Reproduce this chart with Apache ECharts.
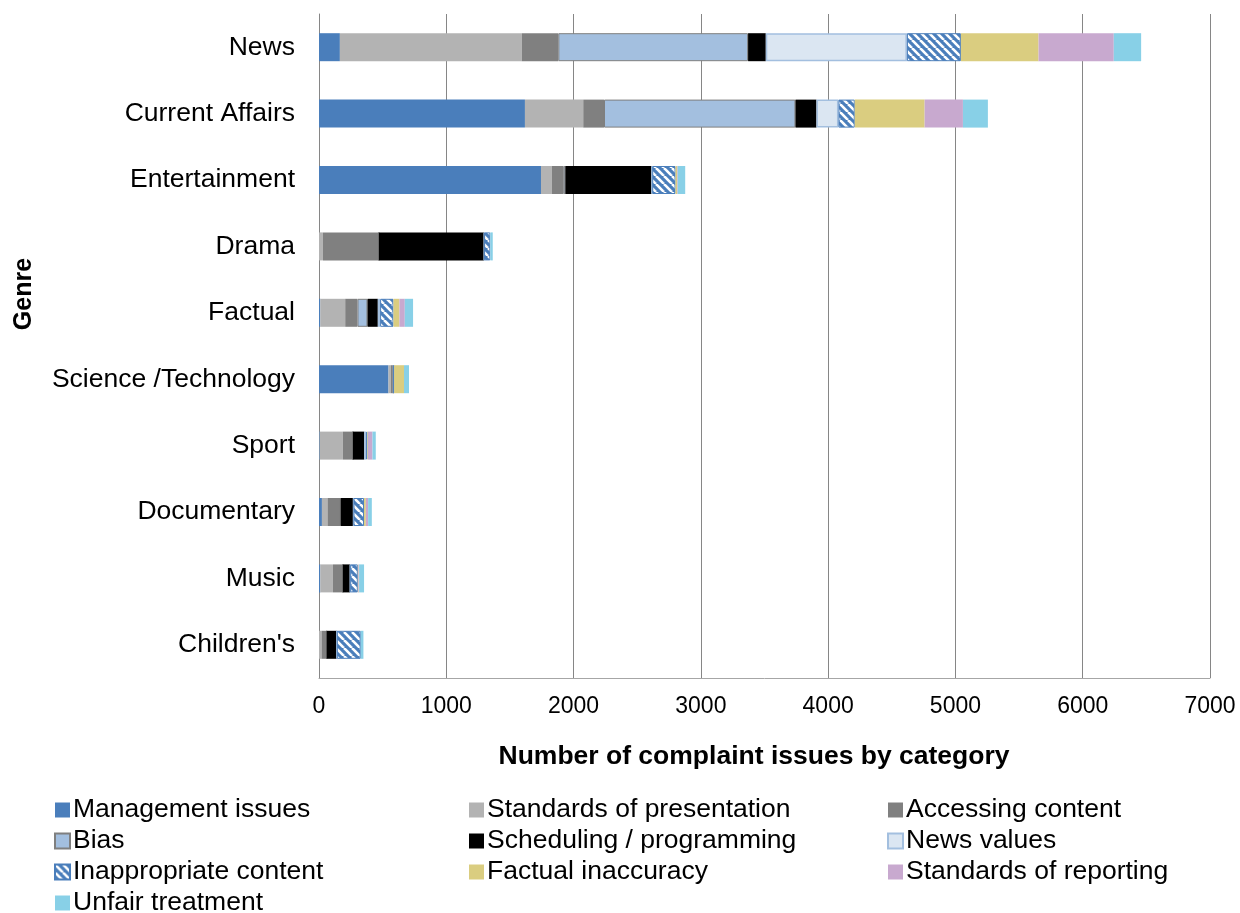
<!DOCTYPE html>
<html><head><meta charset="utf-8">
<script src="https://cdn.jsdelivr.net/npm/echarts@6/dist/echarts.min.js"></script>
<style>html,body{margin:0;padding:0;background:#fff}#c{width:1240px;height:913px}</style>
</head><body><div id="c"></div>
<script>
const categories = ["News","Current Affairs","Entertainment","Drama","Factual","Science /Technology","Sport","Documentary","Music","Children's"];
const seriesNames = ["Management issues","Standards of presentation","Accessing content","Bias","Scheduling / programming","News values","Inappropriate content","Factual inaccuracy","Standards of reporting","Unfair treatment"];
const management   = [164, 1618, 1744, 0,   10,  546, 5,   23,  10, 0];
const standardsPres= [1429, 458,  86,   31,  196, 18,  182, 44,  99, 20];
const accessing    = [287, 163,   89,   439, 96,  21,  79,  99,  78, 40];
const bias         = [1491, 1504, 16,   0,   79,  0,   0,   5,   0,  0];
const scheduling   = [139, 165,   678,  827, 81,  0,   89,  100, 58, 80];
const newsValues   = [1109, 173,  5,    0,   18,  0,   15,  0,   0,  0];
const inappropriate= [424, 128,   183,  49,  105, 5,   10,  83,  60, 188];
const factual      = [610, 549,   13,   0,   47,  78,  5,   14,  5,  0];
const stdReporting = [591, 301,   5,    0,   42,  0,   35,  18,  5,  0];
const unfair       = [215, 196,   58,   19,  65,  39,  26,  29,  39, 21];
const xTicks = [0,1000,2000,3000,4000,5000,6000,7000];
const xTitle = 'Number of complaint issues by category';
const yTitle = 'Genre';

const values = [management, standardsPres, accessing, bias, scheduling, newsValues, inappropriate, factual, stdReporting, unfair];

function stripes(){
  const c = document.createElement('canvas'); c.width = 8; c.height = 8;
  const g = c.getContext('2d');
  g.fillStyle = '#4A7EBB'; g.fillRect(0,0,8,8);
  g.strokeStyle = '#ffffff'; g.lineWidth = 2.6;
  for (let o=-16;o<=16;o+=8){ g.beginPath(); g.moveTo(o,0); g.lineTo(o+8,8); g.stroke(); }
  return c;
}
const pat = {image: stripes(), repeat: 'repeat'};

const styles = [
  {color:'#4A7EBB'},
  {color:'#B3B3B3'},
  {color:'#808080'},
  {color:'#A3BFDF', borderColor:'#7F7F7F', borderWidth:1},
  {color:'#000000'},
  {color:'#DBE6F2', borderColor:'#A3BFDF', borderWidth:1.5},
  {color:pat, borderColor:'#4A7EBB', borderWidth:1},
  {color:'#DACD80'},
  {color:'#C8A9CF'},
  {color:'#88D0E7'}
];

const series = seriesNames.map((n,i)=>({
  name:n, type:'bar', stack:'t', barWidth:28, data: values[i],
  itemStyle: styles[i], emphasis:{disabled:true}, animation:false
}));

const font = 'Arial, "Liberation Sans", sans-serif';
const legendBase = {orient:'vertical', icon:'rect', itemWidth:15, itemHeight:15, itemGap:1, height:300,
  textStyle:{fontFamily:font, fontSize:26.5, color:'#000', lineHeight:30, padding:[0,0,0,-2]}, selectedMode:false};

const chart = echarts.init(document.getElementById('c'), null, {renderer:'canvas'});
chart.setOption({
  animation:false,
  grid:{left:319, right:30, top:14, bottom:235, containLabel:false},
  xAxis:{type:'value', min:xTicks[0], max:xTicks[xTicks.length-1], interval:1000,
    axisLine:{show:true, lineStyle:{color:'#A6A6A6', width:1}},
    axisTick:{show:false},
    axisLabel:{fontFamily:font, fontSize:23, color:'#000', margin:17, formatter:v=>String(v)},
    splitLine:{show:true, lineStyle:{color:'#868686', width:1}}},
  yAxis:{type:'category', data:categories, inverse:true,
    axisLine:{show:true, lineStyle:{color:'#868686', width:1}},
    axisTick:{show:false},
    axisLabel:{fontFamily:font, fontSize:26.5, color:'#000', margin:24}},
  graphic:[
    {type:'text', x:754, y:757, style:{text:xTitle, font:'bold 26.5px '+font, fill:'#000', align:'center', verticalAlign:'middle'}},
    {type:'text', x:24, y:294, rotation:Math.PI/2, style:{text:yTitle, font:'bold 25px '+font, fill:'#000', align:'center', verticalAlign:'middle'}}
  ],
  legend:[
    Object.assign({}, legendBase, {left:49, top:790, data:[seriesNames[0],seriesNames[3],seriesNames[6],seriesNames[9]]}),
    Object.assign({}, legendBase, {left:464, top:790, data:[seriesNames[1],seriesNames[4],seriesNames[7]]}),
    Object.assign({}, legendBase, {left:882, top:790, data:[seriesNames[2],seriesNames[5],seriesNames[8]]})
  ],
  series: series
});
</script></body></html>
